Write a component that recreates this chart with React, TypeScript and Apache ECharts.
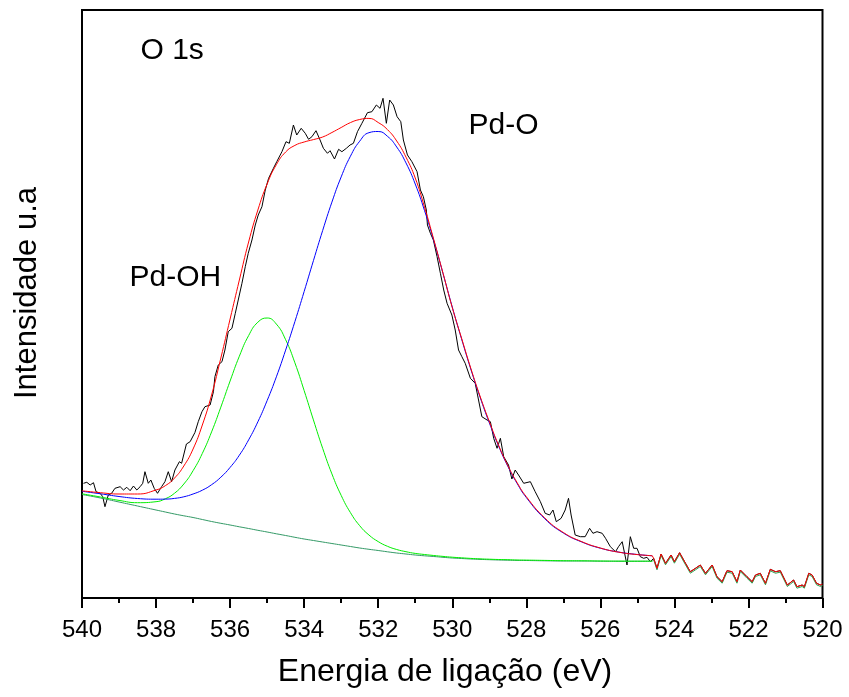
import React, { useEffect, useRef } from "react";
import * as echarts from "echarts";

// Binding energy grid of the fitted curves (eV)
const fitEnergy = [540, 539.5, 539, 538.5, 538, 537.75, 537.5, 537.25, 537, 536.75, 536.5, 536.25, 536, 535.75, 535.5, 535.25, 535, 534.75, 534.5, 534.25, 534, 533.75, 533.5, 533.25, 533, 532.75, 532.5, 532.25, 532, 531.75, 531.5, 531.25, 531, 530.75, 530.5, 530.25, 530, 529.75, 529.5, 529.25, 529, 528.75, 528.5, 528.25, 528, 527.5, 527, 526.5, 526, 525.5, 525, 524.6];
// Shirley-type background
const background = [103.5, 100, 96, 92, 88, 86, 84, 82.2, 80.5, 78.5, 76.5, 74.7, 73, 71.2, 69.5, 67.7, 66, 64.2, 62.5, 60.7, 59, 57.5, 56, 54.5, 53, 51.5, 50, 48.7, 47.5, 46.2, 45, 44, 43, 42.2, 41.5, 40.7, 40, 39.5, 39, 38.6, 38.3, 38, 37.8, 37.6, 37.5, 37.2, 37, 37, 36.8, 36.7, 36.7, 36.7];
// Pd-OH component (incl. background)
const pdOH = [104.2, 101, 97.6, 95.3, 96.3, 99.2, 104.8, 114, 127.3, 144.6, 166.1, 190.9, 217, 241.8, 262.4, 275.8, 280, 273.9, 258.3, 235.2, 207.4, 178.1, 149.7, 124.1, 102.6, 85.4, 72.3, 63, 56.4, 51.7, 48.5, 46.3, 44.6, 43.5, 42.5, 41.6, 40.8, 40.2, 39.6, 39.15, 38.8, 38.5, 38.3, 38, 37.9, 37.6, 37.3, 37.2, 37, 36.9, 36.85, 36.85];
// Pd-O component (incl. background)
const pdO = [106.7, 104.2, 101.5, 99.5, 98.8, 98.9, 99.6, 101.2, 104, 107.8, 113.3, 120.8, 130.6, 142.8, 158.1, 176.2, 197.4, 221.2, 247.9, 276.4, 306.5, 337.3, 367.5, 395.9, 421.1, 441.8, 456.8, 465.3, 466.5, 461.7, 451, 435.1, 414, 387.6, 357.5, 324.6, 291, 259.3, 229, 201, 175.3, 152.1, 131.8, 114.7, 100.5, 79.2, 65, 56, 49.8, 45.9, 43.5, 42.2];
// Fit envelope
const envelope = [107.2, 105.3, 104, 104, 108, 112.3, 120, 132, 149, 173, 203, 240, 279, 318, 356, 388, 414, 433.4, 446, 452.6, 456, 458.4, 461, 465.5, 470.5, 475.4, 478.5, 479.6, 475.5, 468.4, 457, 440.9, 420, 391.1, 358.5, 324.9, 290.5, 260, 229.8, 201.9, 176.5, 152.9, 132.5, 115.5, 101.3, 80, 65.5, 56.3, 50, 45.8, 43.4, 42.3];

// Measured spectrum
const dataEnergy = [539.96, 539.87, 539.78, 539.69, 539.62, 539.51, 539.44, 539.38, 539.29, 539.2, 539.11, 538.97, 538.88, 538.79, 538.7, 538.61, 538.52, 538.43, 538.36, 538.3, 538.21, 538.14, 538.05, 537.96, 537.85, 537.76, 537.67, 537.58, 537.49, 537.37, 537.31, 537.18, 537.08, 536.95, 536.86, 536.76, 536.68, 536.54, 536.45, 536.41, 536.32, 536.22, 536.14, 536.05, 535.95, 535.86, 535.78, 535.68, 535.59, 535.51, 535.41, 535.32, 535.24, 535.14, 535.05, 534.96, 534.83, 534.74, 534.6, 534.49, 534.4, 534.29, 534.2, 534.08, 533.97, 533.88, 533.79, 533.68, 533.57, 533.48, 533.37, 533.3, 533.18, 533.07, 532.98, 532.86, 532.76, 532.67, 532.56, 532.44, 532.29, 532.17, 532.05, 531.95, 531.87, 531.78, 531.69, 531.59, 531.49, 531.39, 531.32, 531.21, 531.09, 530.95, 530.86, 530.78, 530.7, 530.67, 530.59, 530.51, 530.41, 530.32, 530.23, 530.14, 530.01, 529.92, 529.83, 529.74, 529.65, 529.51, 529.38, 529.29, 529.2, 529.06, 528.97, 528.88, 528.79, 528.7, 528.61, 528.48, 528.39, 528.3, 528.21, 528.07, 527.89, 527.76, 527.62, 527.49, 527.37, 527.28, 527.19, 527.06, 526.95, 526.86, 526.79, 526.68, 526.54, 526.41, 526.29, 526.2, 526.09, 525.95, 525.86, 525.73, 525.59, 525.51, 525.41, 525.28, 525.19, 525.1, 525.01, 524.92, 524.83, 524.74, 524.65, 524.56, 524.47, 524.36, 524.24, 524.09, 524, 523.86, 523.7, 523.57, 523.43, 523.3, 523.16, 522.98, 522.85, 522.71, 522.58, 522.44, 522.31, 522.22, 522.04, 521.9, 521.81, 521.68, 521.54, 521.41, 521.27, 521.14, 520.95, 520.78, 520.69, 520.55, 520.49, 520.37, 520.28, 520.16, 520.05, 520];
const dataCounts = [114.7, 115.7, 113, 115.3, 106.3, 104.7, 101.3, 91.3, 103, 104.7, 109.7, 111.3, 108, 110.7, 107.3, 112, 108, 111.3, 114.7, 126.3, 114.7, 118, 109.7, 104.7, 111.3, 116.3, 126.3, 116.3, 128, 136.3, 134.7, 154, 156.3, 165.5, 176.3, 186.3, 191.3, 193, 206.3, 221.3, 233, 236.3, 248, 266.3, 269.7, 284.7, 298, 314.7, 331.3, 344.7, 358, 373, 383, 391.3, 408, 419.7, 429.7, 436.3, 446.3, 456.3, 454.7, 473, 463, 469.7, 464.7, 458.7, 461.3, 467.3, 458, 449.7, 444.7, 447.3, 439, 448.7, 446.3, 449.7, 453, 454.7, 466.3, 474.7, 485.3, 486.3, 493, 489.7, 499.7, 474.7, 498, 493, 481.3, 476.3, 458, 443, 436.3, 426.3, 408, 401.3, 388, 373, 364.7, 358, 341.3, 324.7, 308, 294.7, 283, 268, 248, 241.3, 234.7, 219.7, 214.7, 198, 181.3, 178, 176.3, 159.7, 149.7, 159.7, 141.3, 133, 119, 128, 123, 114.7, 116.3, 106.3, 96.3, 84.7, 83, 88, 76.3, 79.7, 88, 99.7, 83, 63, 61.3, 61.3, 69.7, 64.7, 66.3, 64.7, 59.7, 51.3, 46.3, 51.3, 56.3, 33, 61.3, 49.7, 49.7, 41.3, 39.7, 40.7, 36.3, 39.7, 29.7, 44, 34.7, 43, 36.3, 45.3, 34.7, 26.3, 29.7, 33, 24.7, 33, 21.3, 16.3, 27.3, 26.3, 16.3, 28, 21.3, 16.3, 23, 24.7, 14.7, 28.7, 26.3, 27.3, 13, 18, 11.3, 13, 11.3, 24.7, 23, 14.7, 13, 14];

const xTicks = { min: 520, max: 540, step: 2 };
const fitEnd = 524.6;
const tailOffset = 1.5;

const FONT = '"Liberation Sans", Arial, Helvetica, sans-serif';

export default function App() {
  const ref = useRef<HTMLDivElement>(null);

  useEffect(() => {
    if (!ref.current) return;
    const chart = echarts.init(ref.current, undefined, { renderer: "svg" });

    const pairs = (ys: number[]) => fitEnergy.map((e, i) => [e, ys[i]]);
    const measured = dataEnergy.map((e, i) => [e, dataCounts[i]]);
    const tailIdx = dataEnergy.map((e, i) => i).filter((i) => dataEnergy[i] < fitEnd);
    const envTail = [[fitEnd, envelope[envelope.length - 1]], ...tailIdx.map((i) => [dataEnergy[i], dataCounts[i]])];
    const bgTail = [[fitEnd, background[background.length - 1]], ...tailIdx.map((i) => [dataEnergy[i], dataCounts[i] - tailOffset])];

    const line = (name: string, data: number[][], color: string, smooth: boolean) => ({
      name,
      type: "line",
      data,
      showSymbol: false,
      symbol: "none",
      smooth,
      lineStyle: { color, width: 1 },
      itemStyle: { color },
      emphasis: { disabled: true },
    });

    chart.setOption({
      animation: false,
      textStyle: { fontFamily: FONT },
      grid: { left: 82, top: 10, right: 26.5, bottom: 99, show: true, borderColor: "#000", borderWidth: 2, backgroundColor: "transparent" },
      xAxis: {
        type: "value",
        min: xTicks.min,
        max: xTicks.max,
        interval: xTicks.step,
        inverse: true,
        axisLine: { show: false },
        axisTick: { show: true, length: 10, lineStyle: { color: "#000", width: 2 } },
        minorTick: { show: true, splitNumber: 2, length: 5, lineStyle: { color: "#000", width: 2 } },
        splitLine: { show: false },
        minorSplitLine: { show: false },
        axisLabel: { fontSize: 24, color: "#000", fontFamily: FONT, margin: 18 },
      },
      yAxis: {
        type: "value",
        min: 0,
        max: 588,
        axisLine: { show: false },
        axisTick: { show: false },
        axisLabel: { show: false },
        splitLine: { show: false },
      },
      series: [
        line("Dados", measured, "#000000", false),
        line("Background", pairs(background), "#339966", true),
        line("BackgroundTail", bgTail, "#2e9e50", false),
        line("Pd-OH", pairs(pdOH), "#00ee00", true),
        line("Pd-O", pairs(pdO), "#0000ff", true),
        line("Envelope", pairs(envelope), "#ff0000", true),
        line("EnvelopeTail", envTail, "#ff0000", false),
      ],
      graphic: [
        { type: "text", x: 140.5, y: 48.5, style: { text: "O 1s", fontSize: 30, fontFamily: FONT, fill: "#000", align: "left", verticalAlign: "middle" } },
        { type: "text", x: 468.5, y: 123.5, style: { text: "Pd-O", fontSize: 30, fontFamily: FONT, fill: "#000", align: "left", verticalAlign: "middle" } },
        { type: "text", x: 129.5, y: 275, style: { text: "Pd-OH", fontSize: 30, fontFamily: FONT, fill: "#000", align: "left", verticalAlign: "middle" } },
        { type: "text", x: 445, y: 670, style: { text: "Energia de ligação (eV)", fontSize: 32, fontFamily: FONT, fill: "#000", align: "center", verticalAlign: "middle" } },
        { type: "text", x: 25, y: 293, rotation: Math.PI / 2, style: { text: "Intensidade u.a", fontSize: 31, fontFamily: FONT, fill: "#000", align: "center", verticalAlign: "middle" } },
      ],
    });

    return () => chart.dispose();
  }, []);

  return <div ref={ref} style={{ position: "fixed", left: 0, top: 0, width: 849, height: 697 }} />;
}
